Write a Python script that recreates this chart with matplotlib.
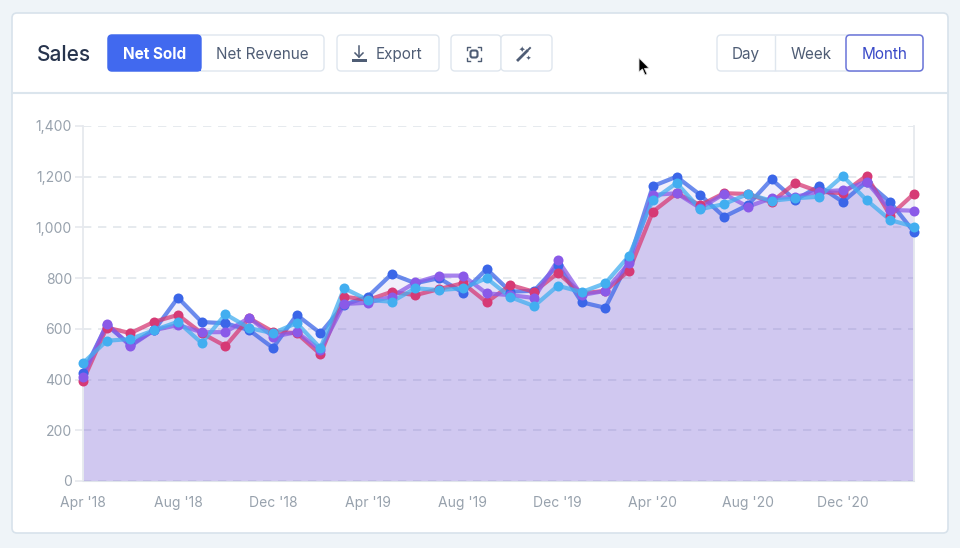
import matplotlib
matplotlib.use("Agg")
import matplotlib.pyplot as plt
from matplotlib.patches import FancyBboxPatch, Rectangle, Polygon

plt.rcParams["font.family"] = ["Inter", "DejaVu Sans"]

# monthly values, Apr '18 to Mar '21
tick_labels = ["Apr '18", "Aug '18", "Dec '18", "Apr '19", "Aug '19", "Dec '19", "Apr '20", "Aug '20", "Dec '20"]
y_ticks = [0, 200, 400, 600, 800, 1000, 1200, 1400]

blue = [427, 615, 536, 595, 723, 627, 622, 595, 525, 655, 583, 695,
        727, 816, 780, 800, 743, 836, 747, 750, 852, 705, 683, 870,
        1163, 1200, 1128, 1042, 1088, 1190, 1108, 1163, 1101, 1180, 1100, 982]
pink = [395, 605, 583, 628, 655, 583, 532, 642, 589, 583, 500, 727,
        714, 746, 733, 757, 780, 705, 773, 746, 820, 740, 750, 830,
        1062, 1135, 1088, 1135, 1132, 1100, 1175, 1141, 1135, 1204, 1047, 1133]
purple = [410, 620, 532, 595, 615, 587, 587, 644, 569, 587, 517, 698,
          703, 727, 783, 810, 810, 740, 733, 722, 871, 733, 750, 860,
          1128, 1135, 1076, 1132, 1082, 1115, 1121, 1141, 1147, 1180, 1069, 1066]
light = [465, 553, 560, 595, 628, 544, 658, 603, 583, 623, 524, 760,
         714, 707, 760, 753, 760, 800, 725, 690, 770, 745, 780, 888,
         1108, 1175, 1072, 1092, 1132, 1105, 1115, 1121, 1203, 1108, 1029, 1003]

series = [(blue, "#3b66e8"), (pink, "#d63a75"), (purple, "#8a5ae8"), (light, "#42aef0")]
months = list(range(len(blue)))

W, H = 960, 548
TXT = "#4f5d75"
fig = plt.figure(figsize=(W / 100, H / 100), dpi=100, facecolor="#eff4f8")

# page chrome drawn in pixel coordinates
bg = fig.add_axes([0, 0, 1, 1])
bg.set_xlim(0, W)
bg.set_ylim(H, 0)
bg.axis("off")


def box(x0, y0, x1, y1, face="white", edge="#dfe6ee", lw=1.0, r=4, z=1):
    bg.add_patch(FancyBboxPatch((x0 + r, y0 + r), x1 - x0 - 2 * r, y1 - y0 - 2 * r,
                                boxstyle="round,pad=%d,rounding_size=%d" % (r, r),
                                fc=face, ec=edge, lw=lw, zorder=z))


box(12, 13, 948, 533, edge="#d8e2eb", lw=1.2, r=5)
bg.plot([13, 947], [93, 93], color="#dbe5ed", lw=1.5, zorder=2)

bg.text(37, 55, "Sales", fontsize=15, fontweight="medium", color="#27344d", va="center")

box(108, 35, 324, 71)
box(108, 35, 201, 71, face="#4169ef", edge="#4169ef", z=2)
bg.add_patch(Rectangle((190, 35.5), 11, 35, fc="#4169ef", ec="none", zorder=2))
bg.text(154.5, 54.5, "Net Sold", fontsize=11, fontweight="bold", color="white", ha="center", va="center", zorder=3)
bg.text(262.5, 54.5, "Net Revenue", fontsize=11, color=TXT, ha="center", va="center", zorder=3)

box(337, 35, 439, 71)
bg.text(376, 54.5, "Export", fontsize=11, color=TXT, va="center", zorder=3)
bg.plot([359, 359], [46, 57], color=TXT, lw=1.1, zorder=3)
bg.plot([355, 359, 363], [53, 57, 53], color=TXT, lw=1.1, zorder=3)
bg.add_patch(Rectangle((352, 58.5), 15, 3, fc=TXT, ec="none", zorder=3))

box(451, 35, 501, 71)
box(501, 35, 552, 71)
# camera-frame icon
for xs, ys in [([467, 467, 470], [50, 47, 47]), ([478, 481, 481], [47, 47, 50]),
               ([467, 467, 470], [58, 61, 61]), ([478, 481, 481], [61, 61, 58])]:
    bg.plot(xs, ys, color=TXT, lw=1.0, zorder=3)
box(470.5, 50.5, 477.5, 57.5, face="white", edge=TXT, lw=1.5, r=2, z=3)
# magic wand icon
bg.plot([518, 527], [60, 51], color=TXT, lw=2.0, zorder=3)
bg.plot([528.5, 530], [49.5, 48], color=TXT, lw=1.4, zorder=3)
bg.text(522, 49, "✦", fontsize=5.5, color=TXT, ha="center", va="center", zorder=3)
bg.text(528, 58, "✦", fontsize=4.5, color=TXT, ha="center", va="center", zorder=3)

box(717, 35, 923, 71)
bg.plot([775, 775], [36, 70], color="#dfe6ee", lw=1.0, zorder=2)
box(846, 35, 923, 71, edge="#6a74d8", lw=1.1, z=3)
bg.text(746, 54.5, "Day", fontsize=11, color=TXT, ha="center", va="center", zorder=4)
bg.text(811, 54.5, "Week", fontsize=11, color=TXT, ha="center", va="center", zorder=4)
bg.text(884.5, 54.5, "Month", fontsize=11, color="#3949c8", ha="center", va="center", zorder=4)

# mouse cursor
bg.add_patch(Polygon([(639, 58), (639, 72), (642.5, 69), (645, 75), (647, 74), (644.5, 68.5), (649, 68)],
                     closed=True, fc="black", ec="#dddddd", lw=0.6, zorder=5))

# chart
ax = fig.add_axes([83 / W, 1 - 481 / H, (914 - 83) / W, (481 - 126) / H])
ax.patch.set_alpha(0)
ax.set_xlim(0, 35)
ax.set_ylim(0, 1400)

for values, color in series:
    ax.fill_between(months, values, 0, color="#7e66d9", alpha=0.1, lw=0, zorder=2)
for values, color in series:
    ax.plot(months, values, color=color, lw=3.0, alpha=0.75, zorder=3, clip_on=False)
    ax.plot(months, values, ls="none", marker="o", ms=7.2, mec="none", color=color, zorder=4, clip_on=False)

ax.set_yticks(y_ticks)
ax.set_yticklabels(["0", "200", "400", "600", "800", "1,000", "1,200", "1,400"])
ax.set_xticks(months[::4])
ax.set_xticklabels(tick_labels)
ax.grid(True, axis="y", color="#e2e6eb", lw=1.2, dashes=(5, 4), zorder=1)
ax.tick_params(axis="y", length=6, width=1.2, color="#e6e9ee", labelsize=10, labelcolor="#98a2ad", pad=2)
ax.tick_params(axis="x", length=0, labelsize=10, labelcolor="#98a2ad", pad=11)
ax.spines["top"].set_visible(False)
ax.spines["bottom"].set_color("#dfe4ea")
for side in ["left", "right"]:
    ax.spines[side].set_color("#e6e9ee")
    ax.spines[side].set_linewidth(1.3)

fig.savefig("out.png", dpi=100)
